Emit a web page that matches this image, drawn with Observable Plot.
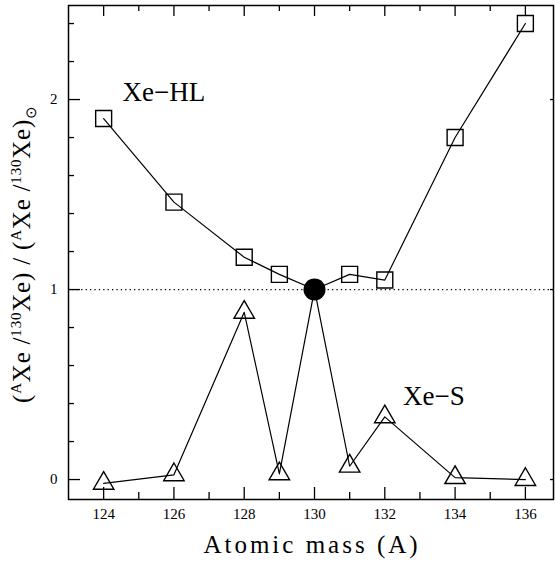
<!DOCTYPE html>
<html><head><meta charset="utf-8">
<script src="https://cdn.jsdelivr.net/npm/d3@7"></script>
<script src="https://cdn.jsdelivr.net/npm/@observablehq/plot@0.6"></script>
<style>body{margin:0;background:#fff} svg text{font-family:"Liberation Serif",serif !important;}</style>
</head><body><div id="chart"></div>
<script>
// ---- data ----
const mass = [124, 126, 128, 129, 130, 131, 132, 134, 136];
const xeHL = [1.90, 1.46, 1.17, 1.08, 1.00, 1.08, 1.05, 1.80, 2.40];
const xeS  = [-0.02, 0.025, 0.88, 0.03, 1.00, 0.07, 0.33, 0.01, 0.00];
const refMass = [130];
const refValue = [1];
const xMajor = [124, 126, 128, 130, 132, 134, 136];
const xMinor = [125, 127, 129, 131, 133, 135];
const yMajor = [0, 1, 2];
const yMinor = [0.2, 0.4, 0.6, 0.8, 1.2, 1.4, 1.6, 1.8, 2.2, 2.4];
const seriesNames = ["Xe\u2212HL", "Xe\u2212S"];
const xTitle = "Atomic mass (A)";

// annotation anchors (data coordinates)
const labelMass = [124.54, 132.52];
const labelValue = [2.037, 0.437];

const hl = mass.map((m, i) => ({m, v: xeHL[i]}));
const s = mass.map((m, i) => ({m, v: xeS[i]}));
const ref = refMass.map((m, i) => ({m, v: refValue[i]}));
const labels = seriesNames.map((t, i) => ({t, m: labelMass[i], v: labelValue[i]}));
const notRef = d => !refMass.includes(d.m);

const serif = "Liberation Serif";
const blank = () => "";
const plain = d => String(d);

const chart = Plot.plot({
  width: 555,
  height: 561,
  marginLeft: 68,
  marginRight: 2,
  marginTop: 5,
  marginBottom: 62,
  style: {fontFamily: serif, background: "white", color: "black", overflow: "visible"},
  x: {domain: [123, 136.8]},
  y: {domain: [-0.105, 2.495]},
  marks: [
    Plot.ruleY(refValue, {stroke: "black", strokeWidth: 1.3, strokeDasharray: "1.3,3.1"}),
    Plot.line(hl, {x: "m", y: "v", curve: "linear", stroke: "black", strokeWidth: 1.2}),
    Plot.line(s, {x: "m", y: "v", stroke: "black", strokeWidth: 1.2}),
    Plot.dot(hl.filter(notRef), {x: "m", y: "v", symbol: "square", r: 9, stroke: "black", strokeWidth: 1.4, fill: "none"}),
    Plot.dot(s.filter(notRef), {x: "m", y: "v", symbol: "triangle", r: 7.6, stroke: "black", strokeWidth: 1.4, fill: "none"}),
    Plot.dot(ref, {x: "m", y: "v", r: 11, fill: "black", stroke: "none"}),
    Plot.text(labels, {x: "m", y: "v", text: "t", textAnchor: "start", lineAnchor: "middle", fontSize: 27, fontFamily: serif, fill: "black"}),
    // bottom axis
    Plot.axisX(xMajor, {anchor: "bottom", tickSize: -12, tickPadding: 21, fontSize: 15, tickFormat: plain, label: null, strokeWidth: 1.3}),
    Plot.axisX(xMinor, {anchor: "bottom", tickSize: -7, tickFormat: blank, label: null, strokeWidth: 1.3}),
    // top axis
    Plot.axisX(xMajor, {anchor: "top", tickSize: -10, tickFormat: blank, label: null, strokeWidth: 1.3}),
    Plot.axisX(xMinor, {anchor: "top", tickSize: -5, tickFormat: blank, label: null, strokeWidth: 1.3}),
    // left axis
    Plot.axisY(yMajor, {anchor: "left", tickSize: -12, tickPadding: 23, fontSize: 15, tickFormat: plain, label: null, strokeWidth: 1.3}),
    Plot.axisY(yMinor, {anchor: "left", tickSize: -6, tickFormat: blank, label: null, strokeWidth: 1.3}),
    // right axis
    Plot.axisY(yMajor, {anchor: "right", tickSize: -4, tickFormat: blank, label: null, strokeWidth: 1.3}),
    Plot.frame({stroke: "black", strokeWidth: 1.5})
  ]
});
document.getElementById("chart").appendChild(chart);

// axis titles with super/subscripts
const svg = d3.select(chart);
svg.append("text")
  .attr("x", 312).attr("y", 553)
  .attr("text-anchor", "middle")
  .attr("font-size", 25)
  .attr("letter-spacing", 3)
  .attr("fill", "black")
  .text(xTitle);

const yt = svg.append("text")
  .attr("transform", "translate(30,254) rotate(-90)")
  .attr("text-anchor", "middle")
  .attr("font-size", 25)
  .attr("letter-spacing", 0.8)
  .attr("fill", "black");
const parts = [
  ["(", 0], ["A", 1], ["Xe", 0], [" /", 0], ["130", 1], ["Xe", 0], [")", 0], [" / ", 0],
  ["(", 0], ["A", 1], ["Xe", 0], [" /", 0], ["130", 1], ["Xe", 0], [")", 0], ["\u2299", -1]
];
let shift = 0;
for (const [t, k] of parts) {
  const target = k === 1 ? -9 : k === -1 ? 6 : 0;
  const ts = yt.append("tspan").text(t).attr("dy", target - shift);
  if (k !== 0) ts.attr("font-size", 15);
  shift = target;
}
</script>
</body></html>
